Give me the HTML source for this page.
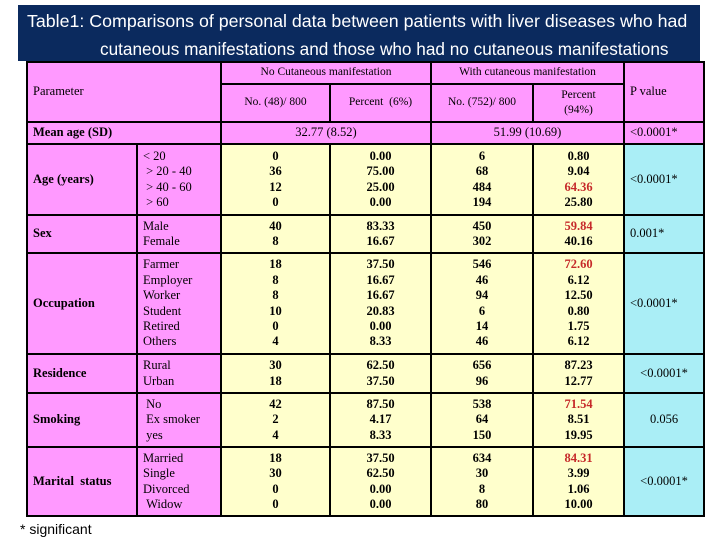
<!DOCTYPE html>
<html><head><meta charset="utf-8">
<style>
body{margin:0;width:720px;height:540px;background:#fff;position:relative;overflow:hidden;font-family:"Liberation Serif",serif;}
#banner{position:absolute;left:18px;top:5px;width:682px;height:56px;background:#0b2a5e;color:#fff;font-family:"Liberation Sans",sans-serif;font-size:17.8px;}
#banner .l1{position:absolute;left:9px;top:6px;}
#banner .l2{position:absolute;left:82px;top:34px;font-size:17.2px;}
table{position:absolute;left:26px;top:61px;border-collapse:collapse;table-layout:fixed;font-size:12.5px;}
td{border:2px solid #000;padding:0 0 0 5px;vertical-align:middle;line-height:15.4px;}
.m{background:#ff99ff;}
.y{background:#ffffcc;text-align:center;padding:0;font-weight:bold;}
.c{background:#aaeef6;}
.h{text-align:center;padding:0;font-size:11.5px;}
.b{font-weight:bold;}
.r{color:#c62a2a;}
.cc{text-align:center;padding:0;}
#foot{position:absolute;left:20px;top:521px;font-family:"Liberation Sans",sans-serif;font-size:14px;}
</style></head><body>
<div id="banner">
<div class="l1">Table1: Comparisons of personal data between patients with liver diseases who had</div>
<div class="l2">cutaneous manifestations and those who had no cutaneous manifestations</div>
</div>
<table>
<colgroup><col style="width:110px"><col style="width:84px"><col style="width:109px"><col style="width:101px"><col style="width:102px"><col style="width:91px"><col style="width:80px"></colgroup>
<tr style="height:22px" class="m"><td colspan="2" rowspan="2" class="m">Parameter</td><td colspan="2" class="h">No Cutaneous manifestation</td><td colspan="2" class="h">With cutaneous manifestation</td><td rowspan="2" class="m">P value</td></tr>
<tr style="height:38px" class="m"><td class="h">No. (48)/ 800</td><td class="h">Percent&nbsp; (6%)</td><td class="h">No. (752)/ 800</td><td class="h">Percent<br>(94%)</td></tr>
<tr style="height:22px" class="m"><td colspan="2" class="b">Mean age (SD)</td><td colspan="2" class="cc">32.77 (8.52)</td><td colspan="2" class="cc">51.99 (10.69)</td><td>&lt;0.0001*</td></tr>
<tr style="height:71px"><td class="m b">Age (years)</td><td class="m">&lt; 20<br>&nbsp;&gt; 20 - 40<br>&nbsp;&gt; 40 - 60<br>&nbsp;&gt; 60</td><td class="y">0<br>36<br>12<br>0</td><td class="y">0.00<br>75.00<br>25.00<br>0.00</td><td class="y">6<br>68<br>484<br>194</td><td class="y">0.80<br>9.04<br><span class="r">64.36</span><br>25.80</td><td class="c">&lt;0.0001*</td></tr>
<tr style="height:38px"><td class="m b">Sex</td><td class="m">Male<br>Female</td><td class="y">40<br>8</td><td class="y">83.33<br>16.67</td><td class="y">450<br>302</td><td class="y"><span class="r">59.84</span><br>40.16</td><td class="c">0.001*</td></tr>
<tr style="height:101px"><td class="m b">Occupation</td><td class="m">Farmer<br>Employer<br>Worker<br>Student<br>Retired<br>Others</td><td class="y">18<br>8<br>8<br>10<br>0<br>4</td><td class="y">37.50<br>16.67<br>16.67<br>20.83<br>0.00<br>8.33</td><td class="y">546<br>46<br>94<br>6<br>14<br>46</td><td class="y"><span class="r">72.60</span><br>6.12<br>12.50<br>0.80<br>1.75<br>6.12</td><td class="c">&lt;0.0001*</td></tr>
<tr style="height:39px"><td class="m b">Residence</td><td class="m">Rural<br>Urban</td><td class="y">30<br>18</td><td class="y">62.50<br>37.50</td><td class="y">656<br>96</td><td class="y">87.23<br>12.77</td><td class="c cc">&lt;0.0001*</td></tr>
<tr style="height:54px"><td class="m b">Smoking</td><td class="m">&nbsp;No<br>&nbsp;Ex smoker<br>&nbsp;yes</td><td class="y">42<br>2<br>4</td><td class="y">87.50<br>4.17<br>8.33</td><td class="y">538<br>64<br>150</td><td class="y"><span class="r">71.54</span><br>8.51<br>19.95</td><td class="c cc">0.056</td></tr>
<tr style="height:69px"><td class="m b">Marital&nbsp; status</td><td class="m">Married<br>Single<br>Divorced<br>&nbsp;Widow</td><td class="y">18<br>30<br>0<br>0</td><td class="y">37.50<br>62.50<br>0.00<br>0.00</td><td class="y">634<br>30<br>8<br>80</td><td class="y"><span class="r">84.31</span><br>3.99<br>1.06<br>10.00</td><td class="c cc">&lt;0.0001*</td></tr>
</table>
<div id="foot">* significant</div>
</body></html>
